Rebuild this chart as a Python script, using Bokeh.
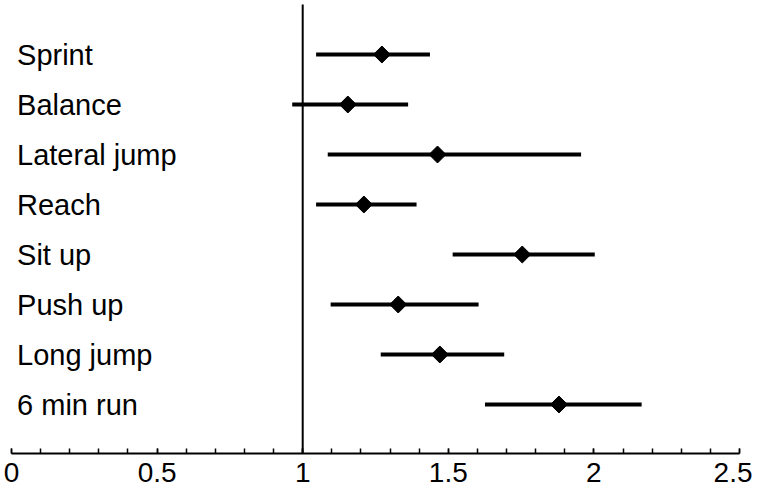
import math
from bokeh.plotting import figure
from bokeh.models import ColumnDataSource, Range1d, FixedTicker
from bokeh.core.properties import value
from bokeh.embed import file_html
from bokeh.resources import INLINE

categories = ["Sprint", "Balance", "Lateral jump", "Reach", "Sit up", "Push up", "Long jump", "6 min run"]
estimate = [1.272, 1.155, 1.463, 1.210, 1.754, 1.328, 1.471, 1.880]
ci_low = [1.046, 0.964, 1.086, 1.046, 1.515, 1.096, 1.268, 1.626]
ci_high = [1.437, 1.362, 1.956, 1.391, 2.003, 1.604, 1.692, 2.164]
null_value = 1
major_ticks = [0, 0.5, 1, 1.5, 2, 2.5]
tick_labels = {0: "0", 0.5: "0.5", 1: "1", 1.5: "1.5", 2: "2", 2.5: "2.5"}

rows = list(range(len(categories)))
src = ColumnDataSource(dict(cat=categories, est=estimate, lo=ci_low, hi=ci_high, row=rows,
                            lx=[0.019] * len(categories)))

y_top, y_bottom = -1.08, 7.98
p = figure(width=752, height=488, output_backend="svg", toolbar_location=None,
           x_range=Range1d(0, 2.5), y_range=Range1d(y_bottom, y_top),
           min_border_left=11, min_border_right=13, min_border_top=0, min_border_bottom=35,
           y_axis_type=None)
p.outline_line_color = None
p.grid.visible = False
p.background_fill_color = "white"
p.border_fill_color = "white"

ax = p.xaxis[0]
ax.ticker = FixedTicker(ticks=major_ticks,
                        minor_ticks=[round(i * 0.1, 1) for i in range(26)])
ax.major_label_overrides = tick_labels
ax.axis_line_width = 2
ax.axis_line_color = "black"
ax.major_tick_in = 5
ax.major_tick_out = 0
ax.minor_tick_in = 5
ax.minor_tick_out = 0
ax.major_tick_line_width = 1.5
ax.minor_tick_line_width = 1.5
ax.major_tick_line_color = "black"
ax.minor_tick_line_color = "black"
ax.major_label_text_font = "Liberation Sans"
ax.major_label_text_font_size = "28px"
ax.major_label_text_color = "black"
ax.major_label_standoff = 9

# reference line at the null value
p.segment(x0=[null_value], y0=[-1.0], x1=[null_value], y1=[y_bottom],
          line_color="black", line_width=2)

p.segment(x0="lo", y0="row", x1="hi", y1="row", source=src, line_color="black", line_width=4)
p.scatter(x="est", y="row", source=src, marker="square", angle=math.pi / 4, size=12,
          fill_color="black", line_color="black")

p.text(x="lx", y="row", text="cat", source=src, text_font=value("Liberation Sans"),
       text_font_size="29px", text_baseline="middle", text_align="left", text_color="black")

open("out.html", "w").write(file_html(p, INLINE))
